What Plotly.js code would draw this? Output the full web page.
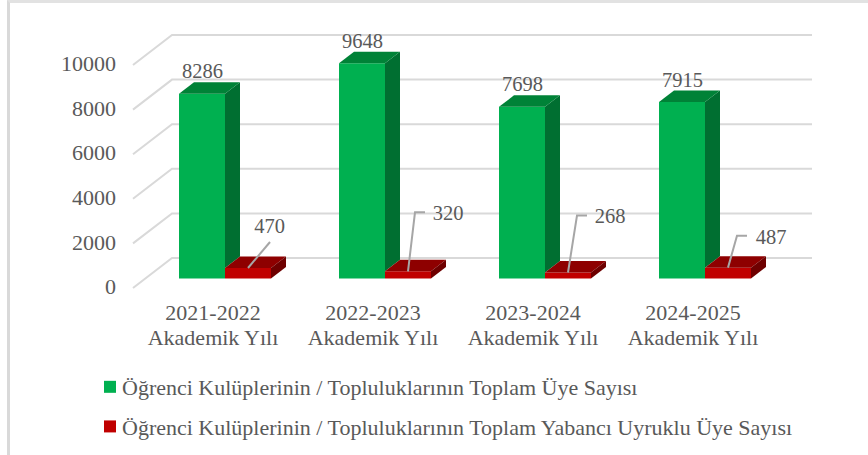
<!DOCTYPE html>
<html>
<head>
<meta charset="utf-8">
<script src="https://cdn.plot.ly/plotly-3.0.1.min.js"></script>
<style>
html,body{margin:0;padding:0;background:#fff;overflow:hidden}
#frame{position:absolute;left:7px;top:0;width:861px;height:455px;border-left:3px solid #d9d9d9;border-top:3px solid #e2e2e2;box-sizing:border-box}
#chart{position:absolute;left:0;top:0;width:868px;height:455px}
</style>
</head>
<body>
<div id="frame"></div>
<div id="chart"></div>
<script>
var years = ['2021-2022', '2022-2023', '2023-2024', '2024-2025'];
var yearSuffix = 'Akademik Yılı';
var totalMembers = [8286, 9648, 7698, 7915];
var foreignMembers = [470, 320, 268, 487];
var yTicks = [0, 2000, 4000, 6000, 8000, 10000];
var seriesNames = [
  'Öğrenci Kulüplerinin / Topluluklarının Toplam Üye Sayısı',
  'Öğrenci Kulüplerinin / Topluluklarının Toplam Yabancı Uyruklu Üye Sayısı'
];

// scale helpers: pixels -> axis units
var PXX = 160, PXY = 0.0223;
var ux = function (p) { return p / PXX; };
var uy = function (p) { return p / PXY; };

var plot = { l: 130, r: 48, t: 30, b: 160, autoexpand: false };
var xRange = [ux(130 - 225), ux(820 - 225)];
var yRange = [uy(288 - 295), uy(288 - 30)];

var depthX = ux(15), depthY = uy(11.5);
var base = uy(9.5);
var barW = ux(46);
var idx = years.map(function (_, i) { return i; });

function poly(xs, ys, color) {
  return { type: 'scatter', mode: 'lines', x: xs, y: ys, fill: 'toself', fillcolor: color,
    line: { width: 0, color: color }, showlegend: false, hoverinfo: 'skip' };
}

var font = 'Liberation Serif, Times New Roman, serif';
var grey = '#595959';

var traces = [
  { type: 'bar', name: seriesNames[0], x: idx, y: totalMembers, base: base,
    marker: { color: '#00B050' }, legendgroup: 'a', hoverinfo: 'skip' },
  { type: 'bar', name: seriesNames[1], x: idx, y: foreignMembers, base: base,
    marker: { color: '#C00000' }, legendgroup: 'b', hoverinfo: 'skip' }
];

// green 3D faces
idx.forEach(function (i) {
  var x0 = i, x1 = i + depthX, xl = i - barW, top = base + totalMembers[i], low = base + foreignMembers[i];
  traces.push(poly([x0, x1, x1, x0, x0], [low, low + depthY, top + depthY, top, low], '#006F31'));
  traces.push(poly([xl, x0, x1, xl + depthX, xl], [top, top, top + depthY, top + depthY, top], '#008237'));
});
// red 3D faces
idx.forEach(function (i) {
  var xl = i, xr = i + barW, top = base + foreignMembers[i];
  traces.push(poly([xl, xr, xr + depthX, xl + depthX, xl], [top, top, top + depthY, top + depthY, top], '#8E0000'));
  traces.push(poly([xr, xr + depthX, xr + depthX, xr, xr], [base, base + depthY, top + depthY, top, base], '#6E0000'));
});

// leader-line layout, in pixels from the front-top centre of each red bar
var leaderMidX = [22, 7, 9, 9], leaderMidY = [26, 59, 57, 32];
var leaderEndX = [22, 17, 19, 19], leaderEndY = [26, 59, 57, 32];
var labelDX = [21.5, 40, 42, 43], labelDY = [40, 56, 55, 29];

idx.forEach(function (i) {
  var cx = i + barW / 2, cy = base + foreignMembers[i];
  traces.push({ type: 'scatter', mode: 'lines', showlegend: false, hoverinfo: 'skip',
    x: [cx, cx + ux(leaderMidX[i]), cx + ux(leaderEndX[i])],
    y: [cy, cy + uy(leaderMidY[i]), cy + uy(leaderEndY[i])],
    line: { color: '#A6A6A6', width: 2 } });
});

// data labels
traces.push({ type: 'scatter', mode: 'text', showlegend: false, hoverinfo: 'skip',
  x: idx.map(function (i) { return i - barW / 2 + ux(0.5); }),
  y: idx.map(function (i) { return base + totalMembers[i] + uy(20.5); }),
  text: totalMembers.map(String), textposition: 'middle center',
  textfont: { family: font, size: 20.5, color: grey } });
traces.push({ type: 'scatter', mode: 'text', showlegend: false, hoverinfo: 'skip',
  x: idx.map(function (i) { return i + barW / 2 + ux(labelDX[i]); }),
  y: idx.map(function (i) { return base + foreignMembers[i] + uy(labelDY[i]); }),
  text: foreignMembers.map(String), textposition: 'middle center',
  textfont: { family: font, size: 20.5, color: grey } });

// walls and gridlines
var wallX = ux(133 - 225), backX = ux(172 - 225), endX = ux(812 - 225), backY = uy(30);
var shapes = yTicks.map(function (v) {
  return { type: 'path', layer: 'below', xref: 'x', yref: 'y',
    path: 'M' + wallX + ',' + v + ' L' + backX + ',' + (v + backY) + ' L' + endX + ',' + (v + backY),
    line: { color: '#D9D9D9', width: 2 } };
});

var layout = {
  width: 868, height: 455,
  margin: plot,
  paper_bgcolor: 'rgba(0,0,0,0)', plot_bgcolor: 'rgba(0,0,0,0)',
  barmode: 'group', bargap: 0.425, bargroupgap: 0,
  font: { family: font, size: 22, color: grey },
  xaxis: {
    type: 'linear', range: xRange, showgrid: false, zeroline: false, showline: false,
    tickmode: 'array',
    tickvals: idx.map(function (i) { return i - ux(12); }),
    ticktext: years.map(function (y) { return y + '<br>' + yearSuffix; }),
    ticks: '', ticklabelstandoff: 2,
    tickfont: { family: font, size: 22, color: grey }
  },
  yaxis: {
    range: yRange, showgrid: false, zeroline: false, showline: false,
    tickmode: 'array', tickvals: yTicks, ticktext: yTicks.map(String),
    ticks: '', ticklabelstandoff: 13,
    tickfont: { family: font, size: 22, color: grey }
  },
  shapes: shapes,
  showlegend: true,
  legend: {
    x: (82 - 130) / 690, xanchor: 'left', y: -0.268, yanchor: 'top',
    orientation: 'v', bgcolor: 'rgba(0,0,0,0)', tracegroupgap: 8,
    font: { family: font, size: 22, color: grey }
  }
};

Plotly.newPlot('chart', traces, layout, { displayModeBar: false, staticPlot: true }).then(function () {
  // tighter line pitch for the two-line category labels
  document.querySelectorAll('.xtick text tspan.line').forEach(function (t) {
    if (t.getAttribute('dy') && parseFloat(t.getAttribute('dy')) > 0) t.setAttribute('dy', '1.12em');
  });
  // swatch sits close to its text
  document.querySelectorAll('.legend .legendsymbols').forEach(function (s) {
    s.setAttribute('transform', 'translate(8,0)');
  });
  // value labels sit slightly above the wall ends
  document.querySelectorAll('.ytick text').forEach(function (t) {
    t.setAttribute('y', parseFloat(t.getAttribute('y') || 0) - 1.5);
  });
});
</script>
</body>
</html>
